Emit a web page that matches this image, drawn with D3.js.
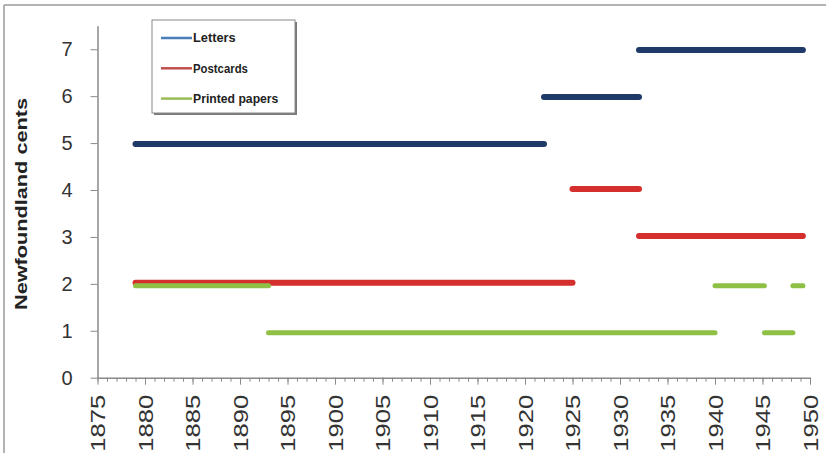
<!DOCTYPE html>
<html>
<head>
<meta charset="utf-8">
<script src="https://cdn.jsdelivr.net/npm/d3@7"></script>
<style>
  html, body { margin: 0; padding: 0; background: #fff; }
  svg { display: block; font-family: "Liberation Sans", Arial, sans-serif; }
</style>
</head>
<body>
<div id="vis"></div>
<script>
// rate periods: [from, to, cents]  (1949.25 = confederation, March 1949)
var letters = [[1879, 1922, 5], [1922, 1932, 6], [1932, 1949.25, 7]]
var postcards = [[1879, 1925, 2], [1925, 1932, 4], [1932, 1949.25, 3]]
var printedPapers = [[1879, 1893, 2], [1893, 1940, 1], [1940, 1945.2, 2], [1945.2, 1948.2, 1], [1948.2, 1949.25, 2]]
var yearTicks = d3.range(1875, 1951, 5)
var centTicks = [0, 1, 2, 3, 4, 5, 6, 7]

var series = [
    { name: "Letters", data: letters, color: "#1f3a68", legend: "#4a7ebb", width: 6, dy: 0.8 },
    { name: "Postcards", data: postcards, color: "#d42f2c", legend: "#c0504d", width: 6, dy: -1 },
    { name: "Printed papers", data: printedPapers, color: "#8dc044", legend: "#9bbb59", width: 5, dy: 2 }
]

var W = 826, H = 453
var svg = d3.select("#vis").append("svg").attr("width", W).attr("height", H)

// frame (top + left only visible)
svg.append("line").attr("x1", 4).attr("x2", 826).attr("y1", 5).attr("y2", 5).attr("stroke", "#9a9a9a").attr("stroke-width", 1.5)
svg.append("line").attr("x1", 4).attr("x2", 4).attr("y1", 5).attr("y2", 453).attr("stroke", "#9a9a9a").attr("stroke-width", 1.5)

var x = d3.scaleLinear().domain([1875, 1950]).range([97.5, 810])
var y = d3.scaleLinear().domain([0, 7.5]).range([377.7, 25.8])

// minor year ticks
var xAxisMinor = d3.axisBottom(x).tickValues(d3.range(1875, 1951, 1)).tickSize(4).tickFormat("")
var gxm = svg.append("g").attr("transform", "translate(0," + y(0) + ")").call(xAxisMinor)
gxm.select(".domain").remove()
gxm.selectAll("line").attr("stroke", "#8a8a8a")

var gx = svg.append("g").attr("transform", "translate(0," + y(0) + ")")
    .call(d3.axisBottom(x).tickValues(yearTicks).tickSize(7).tickSizeOuter(0).tickFormat(d3.format("d")))
gx.select(".domain").attr("stroke", "#8a8a8a").attr("stroke-width", 1.5)
gx.selectAll(".tick line").attr("stroke", "#8a8a8a")
gx.selectAll("text")
    .attr("transform", "rotate(-90)")
    .attr("x", -17).attr("y", 0).attr("dy", "0.35em")
    .style("text-anchor", "end")
    .attr("font-size", "20px")
    .attr("textLength", 57).attr("lengthAdjust", "spacingAndGlyphs")
    .attr("fill", "#333")

var gy = svg.append("g").attr("transform", "translate(" + x(1875) + ",0)")
    .call(d3.axisLeft(y).tickValues(centTicks).tickSize(7).tickSizeOuter(0).tickPadding(18))
gy.select(".domain").attr("stroke", "#8a8a8a").attr("stroke-width", 1.5)
gy.selectAll(".tick line").attr("stroke", "#8a8a8a")
gy.selectAll("text").attr("font-size", "20px").attr("fill", "#333")

svg.append("text")
    .attr("transform", "translate(27,204) rotate(-90)")
    .attr("text-anchor", "middle")
    .attr("font-size", "17px").attr("font-weight", "bold")
    .attr("textLength", 212).attr("lengthAdjust", "spacingAndGlyphs")
    .attr("fill", "#222")
    .text("Newfoundland cents")

// rate segments
series.forEach(function (s) {
    svg.append("g").selectAll("line")
        .data(s.data)
        .enter()
        .append("line")
        .attr("x1", function (d) { return x(d[0]) })
        .attr("x2", function (d) { return x(d[1]) })
        .attr("y1", function (d) { return y(d[2]) + s.dy })
        .attr("y2", function (d) { return y(d[2]) + s.dy })
        .attr("stroke", s.color)
        .attr("stroke-width", s.width)
        .attr("stroke-linecap", "round")
})

// legend
var lg = svg.append("g").attr("transform", "translate(152,20)")
lg.append("rect").attr("x", 2).attr("y", 2).attr("width", 143).attr("height", 93).attr("fill", "#7a7a7a")
lg.append("rect").attr("width", 143).attr("height", 93).attr("fill", "#fff").attr("stroke", "#888").attr("stroke-width", 1)
series.forEach(function (s, i) {
    var ly = 18 + i * 30.3
    lg.append("line").attr("x1", 9).attr("x2", 40).attr("y1", ly).attr("y2", ly)
        .attr("stroke", s.legend).attr("stroke-width", 2.5)
    lg.append("text").attr("x", 41).attr("y", ly).attr("dy", "0.35em")
        .attr("font-size", "12.5px").attr("fill", "#222").attr("font-weight", "bold")
        .attr("textLength", s.name.length * 6.1).attr("lengthAdjust", "spacingAndGlyphs")
        .text(s.name)
})
</script>
</body>
</html>
